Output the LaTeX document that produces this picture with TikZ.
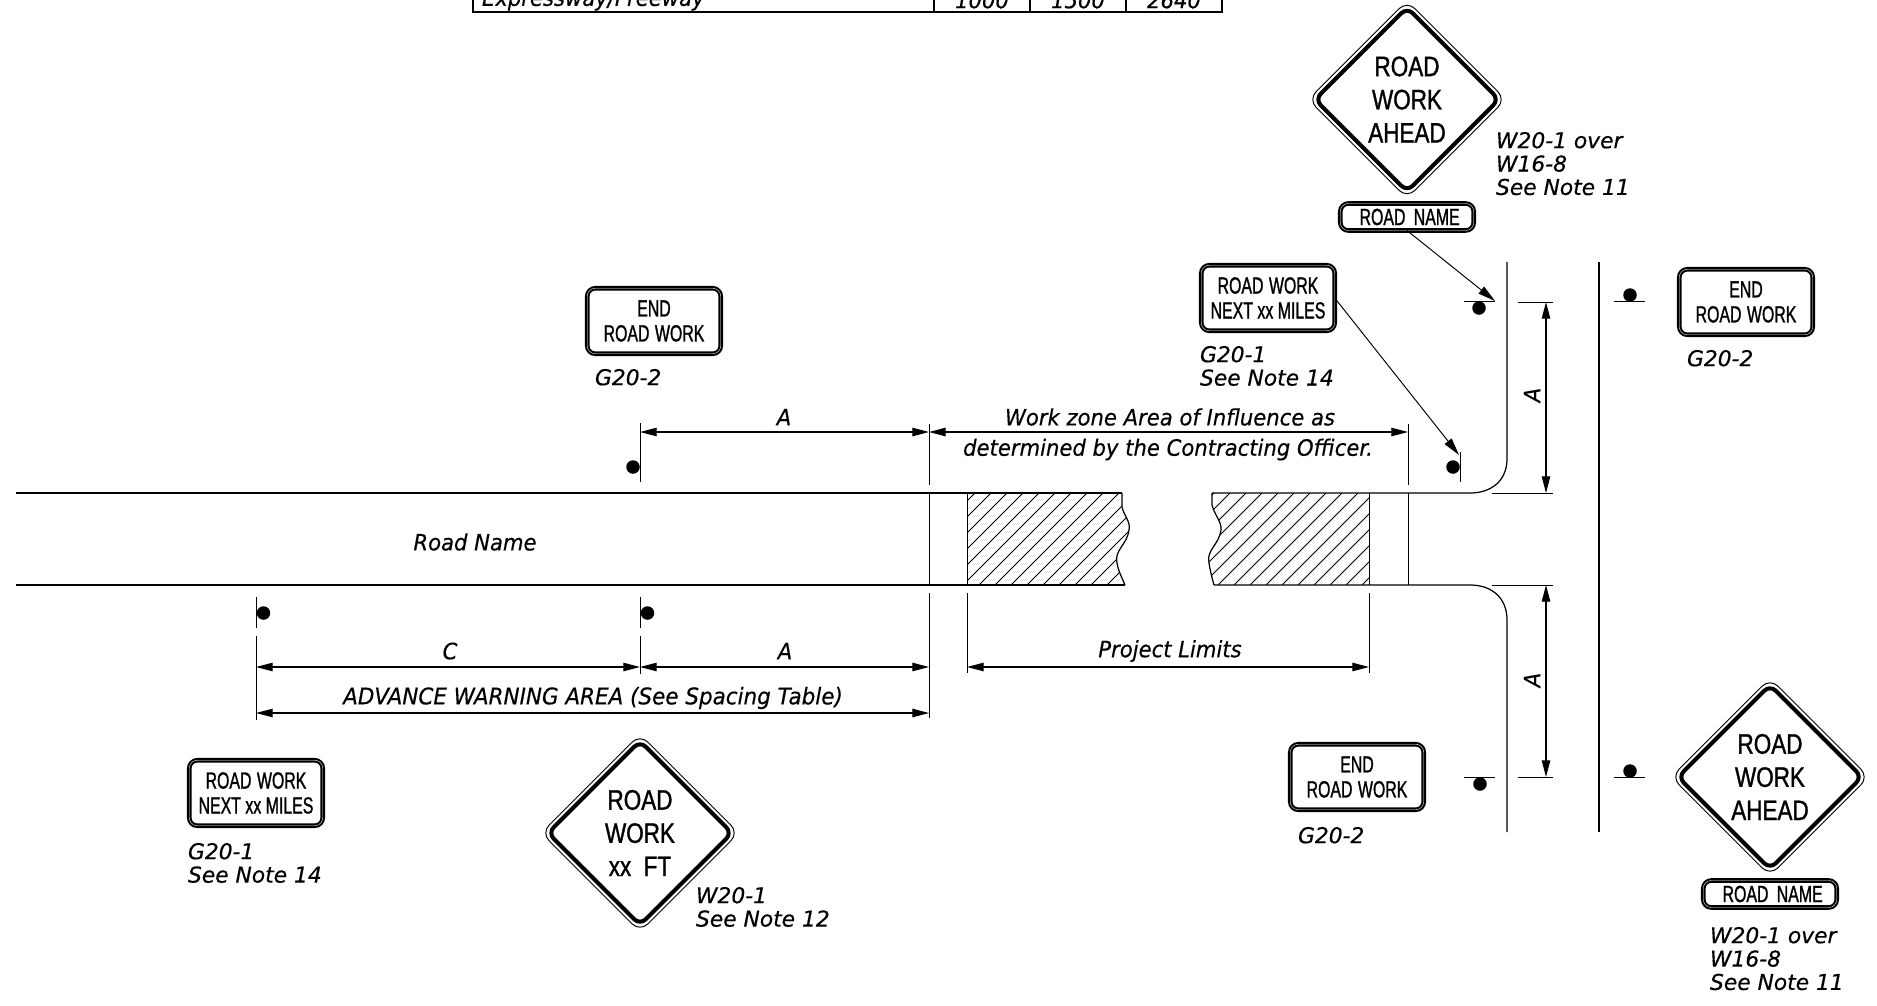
\documentclass[tikz,border=0pt]{standalone}
\usepackage{fontspec}
\setmainfont{DejaVu Sans}[FakeBold=.45]
\newfontfamily\labelfont{DejaVu Sans}[FakeBold=.45,FakeStretch=.94]
\newfontfamily\signfont{Liberation Sans}[FakeStretch=.8,FakeBold=1.1]
\newfontfamily\smallsignfont{Liberation Sans}[FakeStretch=.68,FakeBold=1.1]
\newcommand{\noteface}{\fontsize{12.4}{13.3}\selectfont\itshape}
\newcommand{\dimface}{\labelfont\fontsize{12.8}{13.3}\selectfont\itshape}
\usetikzlibrary{arrows.meta,shapes.geometric}

\begin{document}
\begin{tikzpicture}
  [x=.02cm,y=-.02cm,line width=.7pt,
   every node/.style={inner sep=0,outer sep=0,font=\dimface},
   warnout/.style={draw,diamond,minimum width=3.95cm,minimum height=3.95cm,rounded corners=.22cm,line width=.55pt},
   warn/.style={draw,diamond,minimum width=3.68cm,minimum height=3.68cm,rounded corners=.16cm,line width=2.3pt,align=center,
     font=\signfont\fontsize{16}{18.9}\selectfont},
   notice/.style={draw,rectangle,rounded corners=.16cm,minimum width=2.67cm,minimum height=1.31cm,line width=1.2pt,
     double=white,double distance=.2pt,align=center,font=\smallsignfont\fontsize{13.3}{14.2}\selectfont},
   plate/.style={notice,minimum height=.54cm},
   capt/.style={anchor=north west,align=left,font=\noteface},
   post/.style={circle,fill=black,minimum size=.27cm},
   dimline/.style={{Triangle[length=9.5pt,width=4.8pt]}-{Triangle[length=9.5pt,width=4.8pt]}},
   lead/.style={-{Triangle[length=10pt,width=5pt]}}]
  \clip (0,0) rectangle (1877,1005);

  \draw[line width=1.2pt] (473,0) -- (473,12) -- (1222,12) -- (1222,0);
  \foreach \x in {934,1030,1126}
    \draw (\x,0) -- (\x,12);
  \node[anchor=west] (t1) at (482,0) {Expressway/Freeway};
  \node (t2) at (982,0) {1000};
  \node (t3) at (1078,0) {1500};
  \node (t4) at (1174,0) {2640};

  \draw (16,493) -- (1122,493);
  \draw (16,585) -- (1125,585);
  \draw (1212,493) -- (1470,493) .. controls (1492,493) and (1507,480) .. (1507,459) -- (1507,262);
  \draw (1214,585) -- (1470,585) .. controls (1492,585) and (1507,598) .. (1507,620) -- (1507,832);
  \draw (1599,262) -- (1599,832);
  \node (road) at (475,542) {Road Name};

  \begin{scope}
    \clip (967,493) -- (1122,493) -- (1122,507) .. controls (1124,516) and (1131,522) .. (1129,530)
      .. controls (1127,545) and (1114,550) .. (1117,563) .. controls (1118,570) and (1122,578) .. (1125,585) -- (967,585) -- cycle;
    \foreach \x in {883,899,...,1125}
      \draw[line width=.5pt] (\x,585) -- ({\x+92},493);
  \end{scope}
  \begin{scope}
    \clip (1369,493) -- (1212,493) -- (1212,505) .. controls (1214,514) and (1222,522) .. (1221,530)
      .. controls (1219,545) and (1206,550) .. (1209,563) .. controls (1210,570) and (1212,578) .. (1214,585) -- (1369,585) -- cycle;
    \foreach \x in {1122,1138,...,1362}
      \draw[line width=.5pt] (\x,585) -- ({\x+92},493);
  \end{scope}
  \draw (1122,493) -- (1122,507) .. controls (1124,516) and (1131,522) .. (1129,530)
      .. controls (1127,545) and (1114,550) .. (1117,563) .. controls (1118,570) and (1122,578) .. (1125,585);
  \draw (1212,493) -- (1212,505) .. controls (1214,514) and (1222,522) .. (1221,530)
      .. controls (1219,545) and (1206,550) .. (1209,563) .. controls (1210,570) and (1212,578) .. (1214,585);

  \foreach \x/\from/\to in {929/424/485,929/493/585,929/593/718,1408/424/485,1408/493/585,967/493/585,1369/493/585,
    967/593/673,1369/593/673,640/423/482,256/597/628,640/597/628,256/636/720,640/636/674,1460/452/482}
    \draw[line width=.55pt] (\x,\from) -- (\x,\to);
  \foreach \y/\from/\to in {302/1518/1553,493/1492/1553,585/1492/1553,777/1518/1553,301/1464/1495,301/1614/1645,777/1464/1495,777/1614/1645}
    \draw[line width=.55pt] (\from,\y) -- (\to,\y);

  \coordinate (a1) at (640,432);
  \coordinate (a2) at (929,432);
  \coordinate (a3) at (1408,432);
  \coordinate (b1) at (256,667);
  \coordinate (b2) at (640,667);
  \coordinate (b3) at (929,667);
  \coordinate (c1) at (256,713);
  \coordinate (c2) at (929,713);
  \coordinate (e1) at (967,667);
  \coordinate (e2) at (1369,667);
  \coordinate (f1) at (1546,302);
  \coordinate (f2) at (1546,493);
  \coordinate (f3) at (1546,585);
  \coordinate (f4) at (1546,777);
  \foreach \from/\to in {a1/a2,a2/a3,b1/b2,b2/b3,c1/c2,e1/e2,f1/f2,f3/f4}
    \draw[dimline] (\from) -- (\to);

  \node (la1) at (784,417) {A};
  \node (la2) at (1170,417) {Work zone Area of Influence as};
  \node (la3) at (1168,449.5) {determined by the Contracting Officer.};
  \node (la4) at (450,651) {C};
  \node (la5) at (785,651) {A};
  \node[font=\labelfont\fontsize{13}{13}\selectfont\itshape] (la6) at (593,698) {ADVANCE WARNING AREA (See Spacing Table)};
  \node (la7) at (1170,651) {Project Limits};
  \node[rotate=90] (la8) at (1532,395) {A};
  \node[rotate=90] (la9) at (1532,680) {A};

  \foreach \n/\x/\y in {p1/633/467,p2/263.5/613,p3/647.5/613,p4/1453/467,p5/1479/308,p6/1630/295,p7/1480/784,p8/1630/771}
    \node[post] (\n) at (\x,\y) {};

  \node[warnout] (w1o) at (1407,99.5) {};
  \node[warn] (w1) at (1407,99.5) {ROAD\\WORK\\AHEAD};
  \node[warnout] (w2o) at (640,833) {};
  \node[warn] (w2) at (640,833) {ROAD\\WORK\\xx~~FT};
  \node[warnout] (w3o) at (1770,777) {};
  \node[warn] (w3) at (1770,777) {ROAD\\WORK\\AHEAD};

  \node[plate] (n1) at (1407,217) {\hspace*{3pt}ROAD~\,NAME};
  \node[plate] (n2) at (1770,894) {\hspace*{3pt}ROAD~\,NAME};
  \node[notice] (s1) at (1268,298) {ROAD~\hspace{.6pt}WORK\\NEXT xx MILES};
  \node[notice] (s2) at (256,793) {ROAD~\hspace{.6pt}WORK\\NEXT xx MILES};
  \node[notice] (s3) at (654,321) {END\\ROAD~\hspace{.6pt}WORK};
  \node[notice] (s4) at (1746,302) {END\\ROAD~\hspace{.6pt}WORK};
  \node[notice] (s5) at (1357,777) {END\\ROAD~\hspace{.6pt}WORK};

  \coordinate (t5) at (1495,301);
  \coordinate (t6) at (1459,455);
  \draw[lead,line width=.55pt] (n1.south) -- (t5);
  \draw[lead,line width=.55pt] (s1.east) -- (t6);

  \node[capt] (g1) at (1496,132) {W20-1 over\\W16-8\\See Note 11};
  \node[capt] (g2) at (1710,927) {W20-1 over\\W16-8\\See Note 11};
  \node[capt] (g3) at (1200,346) {G20-1\\See Note 14};
  \node[capt] (g4) at (188,843) {G20-1\\See Note 14};
  \node[capt] (g5) at (696,887) {W20-1\\See Note 12};
  \node[capt] (g6) at (595,369) {G20-2};
  \node[capt] (g7) at (1687,350) {G20-2};
  \node[capt] (g8) at (1298,827) {G20-2};
\end{tikzpicture}
\end{document}
